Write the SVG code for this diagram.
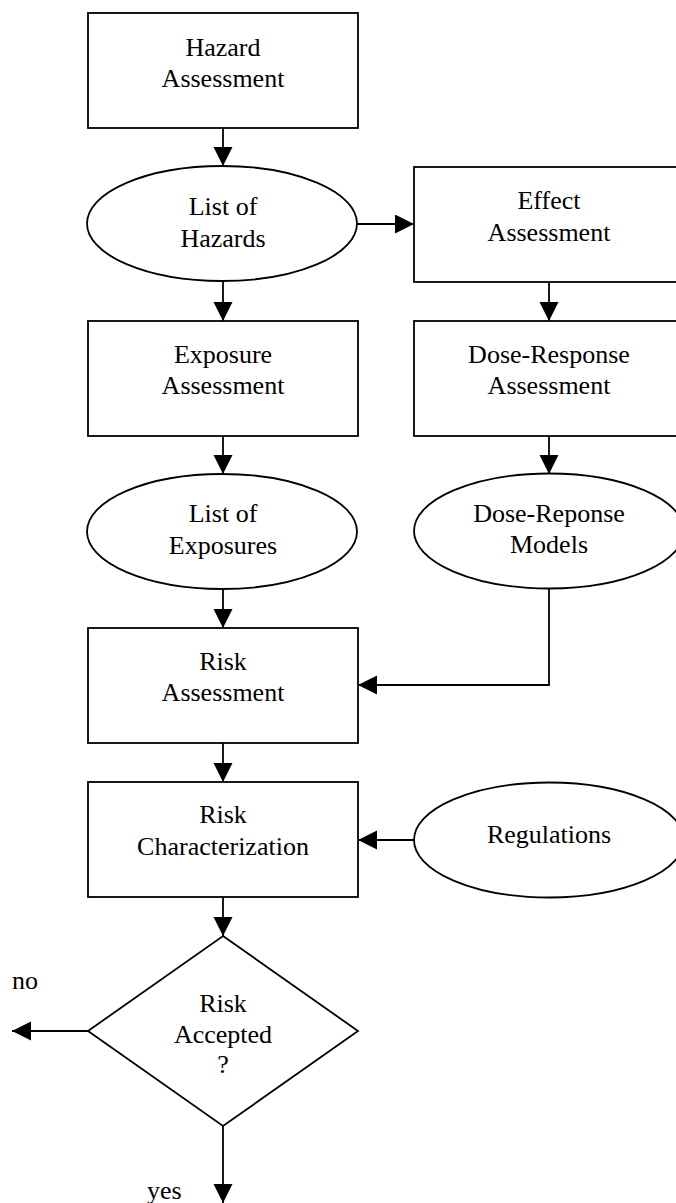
<svg xmlns="http://www.w3.org/2000/svg" width="676" height="1203" viewBox="0 0 676 1203">
<defs>
<style>
.s{fill:#fff;stroke:#000;stroke-width:1.8}
.c{fill:none;stroke:#000;stroke-width:1.8}
text{font-family:"Liberation Serif","Times New Roman",serif;font-size:26px;fill:#000;text-anchor:middle}
.l{text-anchor:start}
</style>
<marker id="ah" markerUnits="userSpaceOnUse" markerWidth="20" markerHeight="20" refX="19" refY="9.5" orient="auto">
<path d="M0,0 L19,9.5 L0,19 z" fill="#000"/>
</marker>
</defs>
<rect width="676" height="1203" fill="#fff"/>
<g id="connectors">
<path class="c" d="M223,128 V166" marker-end="url(#ah)"/>
<path class="c" d="M357,224 H414" marker-end="url(#ah)"/>
<path class="c" d="M223,281 V321" marker-end="url(#ah)"/>
<path class="c" d="M549,282 V321" marker-end="url(#ah)"/>
<path class="c" d="M223,436 V474" marker-end="url(#ah)"/>
<path class="c" d="M549,436 V474" marker-end="url(#ah)"/>
<path class="c" d="M223,589 V628" marker-end="url(#ah)"/>
<path class="c" d="M549,589 V685 H358" marker-end="url(#ah)"/>
<path class="c" d="M223,743 V782" marker-end="url(#ah)"/>
<path class="c" d="M414,840 H358" marker-end="url(#ah)"/>
<path class="c" d="M223,897 V936" marker-end="url(#ah)"/>
<path class="c" d="M88,1031 H12" marker-end="url(#ah)"/>
<path class="c" d="M223,1126 V1203" marker-end="url(#ah)"/>
</g>
<g id="hazard-assessment">
<rect class="s" x="88" y="13" width="270" height="115"/>
<text x="223" y="56">Hazard</text>
<text x="223" y="87">Assessment</text>
</g>
<g id="list-of-hazards">
<ellipse class="s" cx="222" cy="223.5" rx="135" ry="57.5"/>
<text x="223" y="215">List of</text>
<text x="223" y="247">Hazards</text>
</g>
<g id="effect-assessment">
<rect class="s" x="414" y="167" width="270" height="115"/>
<text x="549" y="209">Effect</text>
<text x="549" y="241">Assessment</text>
</g>
<g id="exposure-assessment">
<rect class="s" x="88" y="321" width="270" height="115"/>
<text x="223" y="363">Exposure</text>
<text x="223" y="394">Assessment</text>
</g>
<g id="dose-response-assessment">
<rect class="s" x="414" y="321" width="270" height="115"/>
<text x="549" y="363">Dose-Response</text>
<text x="549" y="394">Assessment</text>
</g>
<g id="list-of-exposures">
<ellipse class="s" cx="222" cy="531.5" rx="135" ry="57.5"/>
<text x="223" y="522">List of</text>
<text x="223" y="554">Exposures</text>
</g>
<g id="dose-reponse-models">
<ellipse class="s" cx="549" cy="531" rx="135" ry="57.5"/>
<text x="549" y="522">Dose-Reponse</text>
<text x="549" y="553">Models</text>
</g>
<g id="risk-assessment">
<rect class="s" x="88" y="628" width="270" height="115"/>
<text x="223" y="670">Risk</text>
<text x="223" y="701">Assessment</text>
</g>
<g id="risk-characterization">
<rect class="s" x="88" y="782" width="270" height="115"/>
<text x="223" y="823">Risk</text>
<text x="223" y="855">Characterization</text>
</g>
<g id="regulations">
<ellipse class="s" cx="549" cy="840" rx="135" ry="57.5"/>
<text x="549" y="843">Regulations</text>
</g>
<g id="risk-accepted">
<polygon class="s" points="223,936 358,1031 223,1126 88,1031"/>
<text x="223" y="1012">Risk</text>
<text x="223" y="1043">Accepted</text>
<text x="223" y="1073">?</text>
</g>
<g id="labels">
<text class="l" x="12" y="989">no</text>
<text class="l" x="147" y="1199">yes</text>
</g>
</svg>
